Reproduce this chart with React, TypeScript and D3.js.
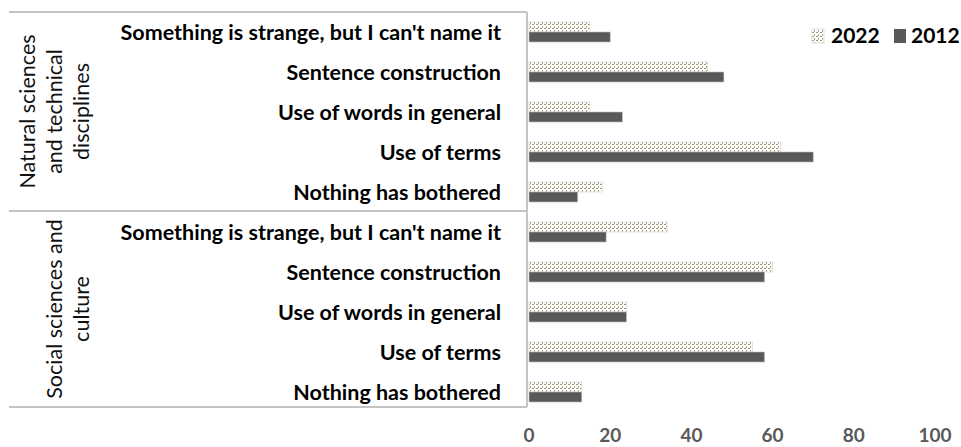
import React from "react";
import * as d3 from "d3";

const groups = ["Natural sciences\nand technical\ndisciplines", "Social sciences and\nculture"];
const categories = [
  "Something is strange, but I can't name it",
  "Sentence construction",
  "Use of words in general",
  "Use of terms",
  "Nothing has bothered",
];
const series = ["2022", "2012"];
// values per group, in category order
const values2022 = [
  [15, 44, 15, 62, 18],
  [34, 60, 24, 55, 13],
];
const values2012 = [
  [20, 48, 23, 70, 12],
  [19, 58, 24, 58, 13],
];
const ticks = [0, 20, 40, 60, 80, 100];

const W = 961;
const H = 447;
const FONT = "Lato, 'Open Sans', sans-serif";

type Row = { key: string; group: number; cat: string; v2022: number; v2012: number };

const rows: Row[] = [];
groups.forEach((_, gi) => {
  categories.forEach((c, ci) => {
    rows.push({ key: `${gi}-${ci}`, group: gi, cat: c, v2022: values2022[gi][ci], v2012: values2012[gi][ci] });
  });
});

export default function App() {
  const x = d3.scaleLinear().domain([0, 100]).range([529, 935]);
  const y = d3
    .scaleBand<string>()
    .domain(rows.map((r) => r.key))
    .range([12, 412]);
  const sub = d3
    .scaleBand<string>()
    .domain(series)
    .range([0, y.bandwidth()])
    .paddingOuter(1);

  const top = y.range()[0];
  const mid = y(rows[categories.length].key)! - 1;
  const bottom = y.range()[1] - 5;
  const axisX = x(0) - 2;

  return (
    <div style={{ position: "absolute", left: 0, top: 0 }}>
      <svg width={W} height={H} style={{ display: "block", background: "#fff" }}>
        <defs>
          <pattern id="dots" width={4} height={4} patternUnits="userSpaceOnUse">
            <rect width={4} height={4} fill="#fff" />
            <rect x={0} y={0} width={2} height={1} fill="#9a9468" />
            <rect x={2} y={2} width={1} height={2} fill="#aaa47e" />
          </pattern>
        </defs>

        {/* category frame */}
        <g stroke="#c4c4c4" strokeWidth={2} fill="none">
          <line x1={9} x2={axisX} y1={top} y2={top} />
          <line x1={9} x2={axisX} y1={mid} y2={mid} />
          <line x1={9} x2={axisX} y1={bottom} y2={bottom} />
          <line x1={axisX} x2={axisX} y1={top} y2={bottom} />
        </g>

        {/* group labels */}
        {groups.map((g, gi) => {
          const lines = g.split("\n");
          const y0 = gi === 0 ? top : mid;
          const y1 = gi === 0 ? mid : bottom;
          const cy = (y0 + y1) / 2;
          return (
            <g key={g} transform={`translate(0,${cy}) rotate(-90)`}>
              {lines.map((l, li) => (
                <text
                  key={li}
                  x={0}
                  y={89 - (lines.length - 1 - li) * 27}
                  textAnchor="middle"
                  fontFamily={FONT}
                  fontSize={21.5}
                  fill="#111"
                >
                  {l}
                </text>
              ))}
            </g>
          );
        })}

        {/* category labels */}
        {rows.map((r) => (
          <text
            key={r.key}
            x={501}
            y={y(r.key)! + y.bandwidth() / 2}
            dy="0.35em"
            textAnchor="end"
            fontFamily={FONT}
            fontWeight="bold"
            fontSize={21.5}
            fill="#000"
          >
            {r.cat}
          </text>
        ))}

        {/* bars */}
        {rows.map((r) => (
          <g key={r.key} transform={`translate(0,${y(r.key)})`}>
            <rect
              x={x(0)}
              y={sub("2022")}
              width={x(r.v2022) - x(0)}
              height={sub.bandwidth()}
              fill="url(#dots)"
              stroke="#d9d9d9"
              strokeWidth={0.8}
            />
            <rect
              x={x(0)}
              y={sub("2012")}
              width={x(r.v2012) - x(0)}
              height={sub.bandwidth()}
              fill="#595959"
              stroke="#bfbfbf"
              strokeWidth={0.6}
            />
          </g>
        ))}

        {/* x ticks */}
        {ticks.map((t) => (
          <text
            key={t}
            x={x(t)}
            y={442}
            textAnchor="middle"
            fontFamily={FONT}
            fontWeight="bold"
            fontSize={19}
            fill="#595959"
          >
            {t}
          </text>
        ))}

        {/* legend */}
        <g fontFamily={FONT} fontWeight="bold" fontSize={21} fill="#000">
          <rect x={812} y={29} width={12} height={14} fill="url(#dots)" stroke="#d9d9d9" strokeWidth={0.8} />
          <text x={831} y={36} dy="0.35em">{series[0]}</text>
          <rect x={894} y={29} width={12} height={14} fill="#595959" />
          <text x={911} y={36} dy="0.35em">{series[1]}</text>
        </g>
      </svg>
    </div>
  );
}
